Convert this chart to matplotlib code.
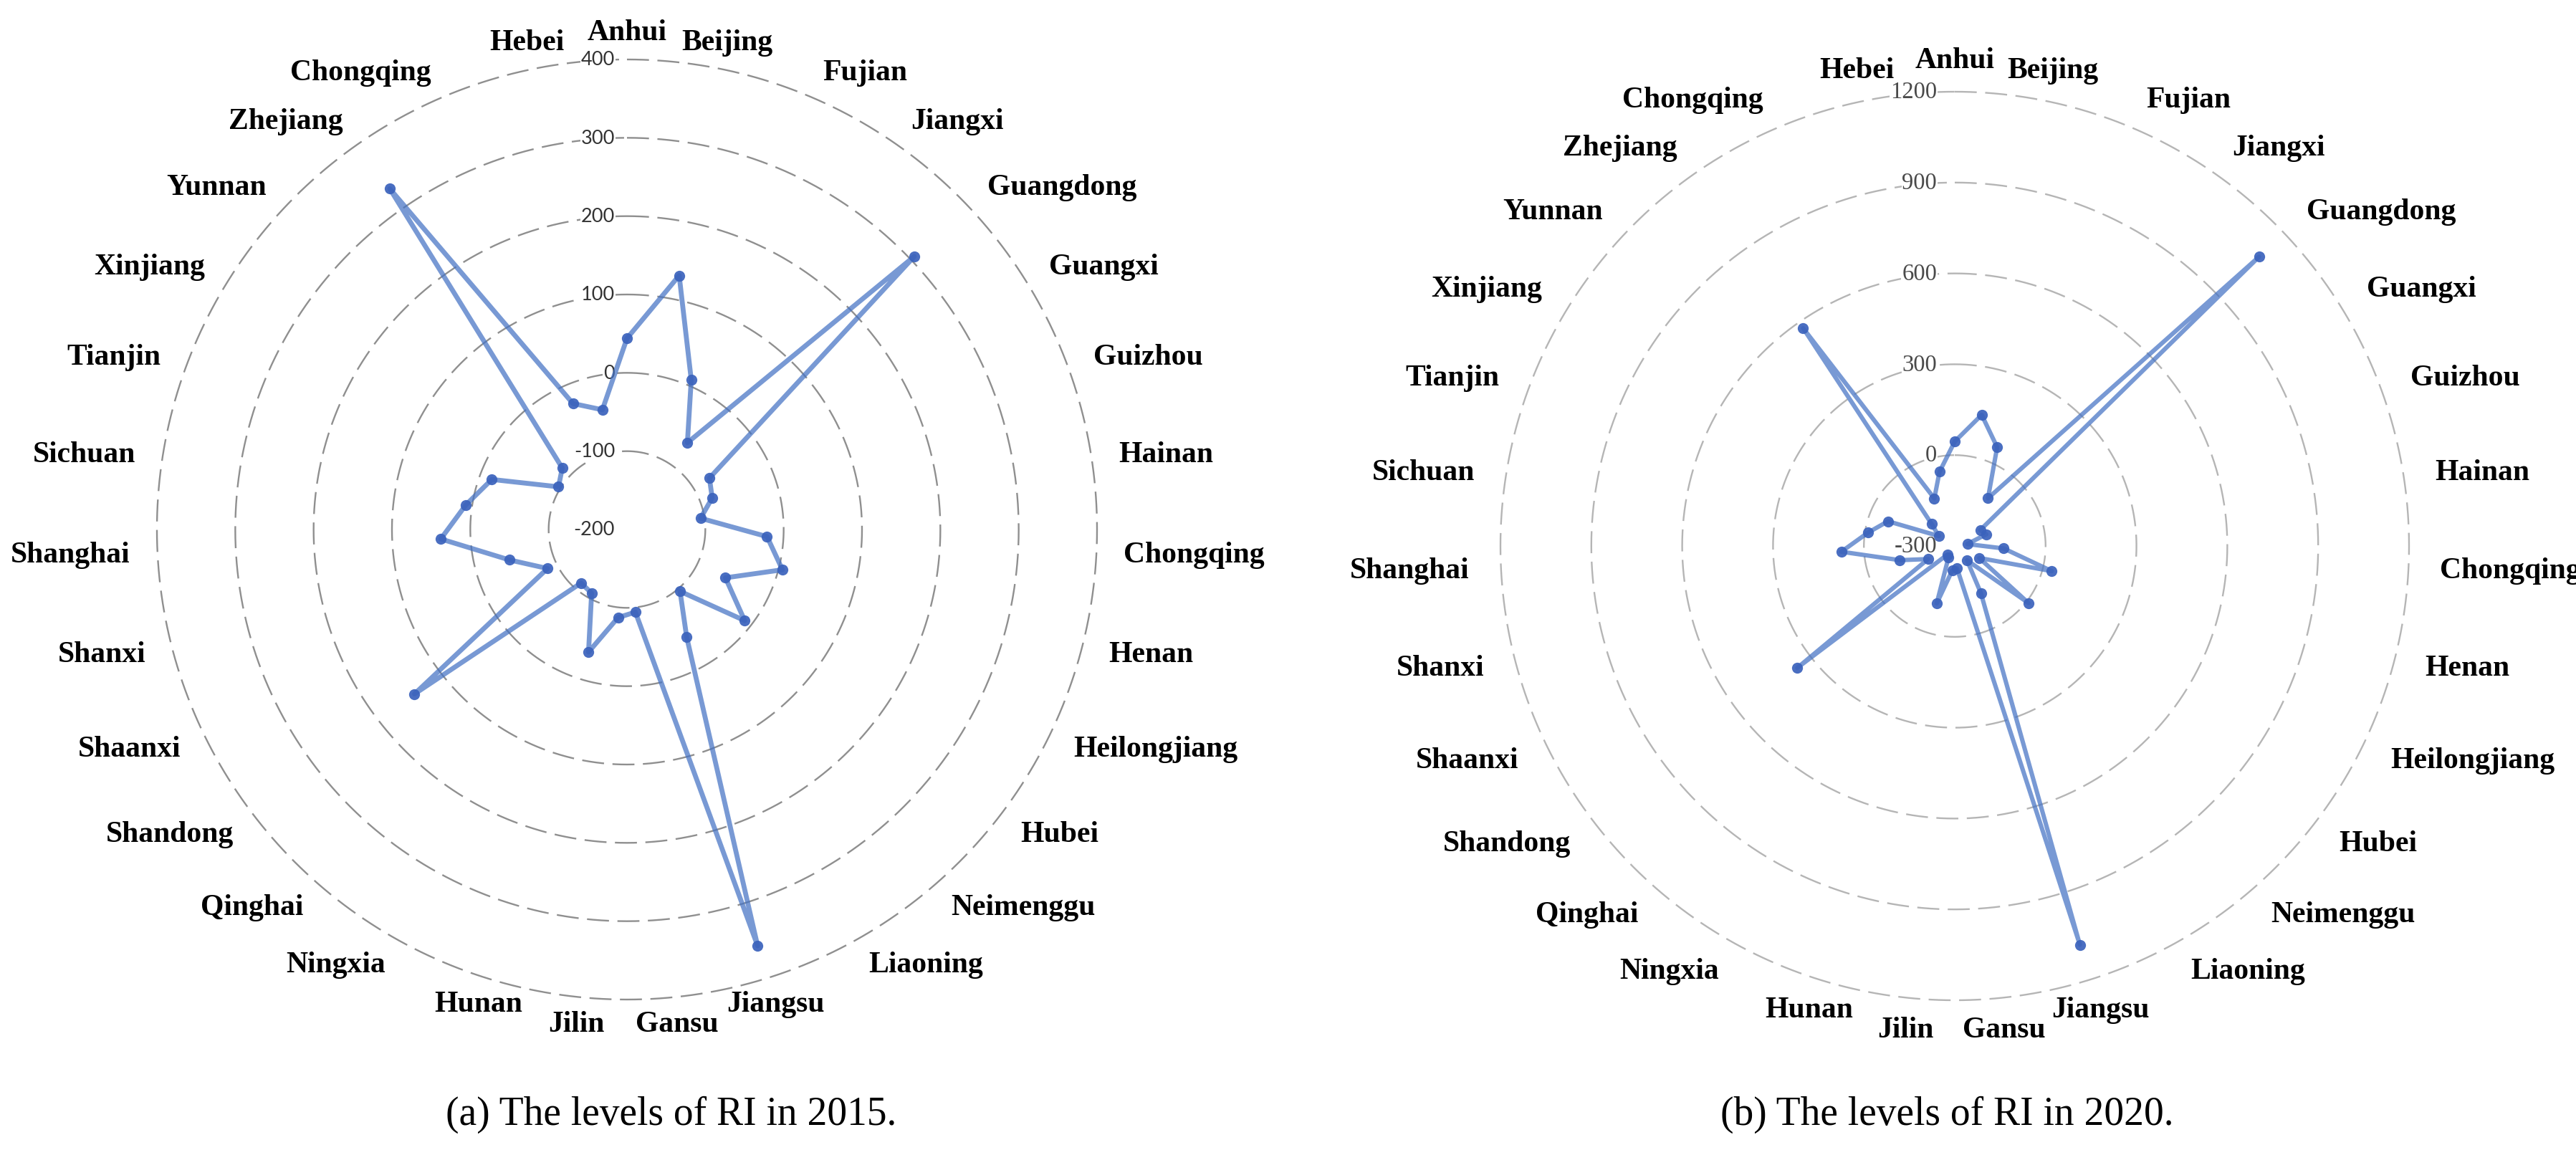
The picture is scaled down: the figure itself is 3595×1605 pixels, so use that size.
import numpy as np
import matplotlib
matplotlib.use("Agg")
import matplotlib.pyplot as plt

# ---------------- data ----------------
categories = ["Anhui", "Beijing", "Fujian", "Jiangxi", "Guangdong", "Guangxi",
              "Guizhou", "Hainan", "Chongqing", "Henan", "Heilongjiang", "Hubei",
              "Neimenggu", "Liaoning", "Jiangsu", "Gansu", "Jilin", "Hunan",
              "Ningxia", "Qinghai", "Shandong", "Shaanxi", "Shanxi", "Shanghai",
              "Sichuan", "Tianjin", "Xinjiang", "Yunnan", "Zhejiang", "Chongqing",
              "Hebei"]

ri_2015 = [44, 131, 8, -65, 306, -76, -84, -105, -21, 5, -60, -10, -96, -43,
           357, -94, -87, -36, -107, -110, 143, -87, -45, 38, 8, -16, -97, -86,
           330, -25, -44]

ri_2020 = [45, 142, 55, -108, 1086, -201, -189, -258, -138, 31, -210, 8, -238,
           -122, 1080, -226, -219, -101, -258, -262, 358, -202, -113, 75, -10,
           -65, -238, -195, 576, -129, -50]

ticks_2015 = [-200, -100, 0, 100, 200, 300, 400]
ticks_2020 = [-300, 0, 300, 600, 900, 1200]

caption_2015 = "(a) The levels of RI in 2015."
caption_2020 = "(b) The levels of RI in 2020."

# ---------------- figure ----------------
W, H, DPI = 3595, 1606, 100
fig = plt.figure(figsize=(W / DPI, H / DPI), dpi=DPI)
fig.patch.set_facecolor("white")


def radar(center, R, values, ticks, ring_color, tick_font, tick_size,
          tick_color, tick_dx, lab_pad, lw, ms):
    cx, cy = center
    rect = [(cx - R) / W, (H - cy - R) / H, 2 * R / W, 2 * R / H]
    ax = fig.add_axes(rect, projection="polar")
    ax.set_theta_zero_location("N")
    ax.set_theta_direction(-1)
    ax.set_rlim(ticks[0], ticks[-1])
    ax.set_xticks([])
    ax.set_yticks([])
    ax.grid(False)
    ax.spines["polar"].set_visible(False)
    ax.patch.set_alpha(0)

    n = len(categories)
    theta = np.arange(n) * 2 * np.pi / n
    tt = np.linspace(0, 2 * np.pi, 1441)

    # dashed rings
    for v in ticks[1:]:
        ln, = ax.plot(tt, np.full_like(tt, v), color=ring_color, lw=1.7,
                      clip_on=False, zorder=1)
        ln.set_dashes((13, 5))

    # radial tick labels
    for v in ticks:
        ax.annotate(f"{v}", xy=(0, v), xytext=(tick_dx, 0),
                    textcoords="offset pixels", ha="right", va="center",
                    fontfamily=tick_font, fontsize=tick_size, color=tick_color,
                    annotation_clip=False, zorder=2,
                    bbox=dict(facecolor="white", edgecolor="none", pad=0.5))

    # data polygon
    th = np.r_[theta, theta[0]]
    vals = np.r_[values, values[0]]
    ax.plot(th, vals, color="#4472C4", alpha=0.72, lw=lw, zorder=3,
            solid_joinstyle="round", solid_capstyle="round", clip_on=False)
    ax.plot(theta, values, "o", ls="none", ms=ms, color="#3A62BC", alpha=0.92,
            markeredgewidth=0, zorder=4, clip_on=False)

    # category labels
    for t, name in zip(theta, categories):
        s, c = np.sin(t), np.cos(t)
        if abs(s) < 0.35:
            ha = "center"
        else:
            ha = "left" if s > 0 else "right"
        ax.annotate(name, xy=(t, ticks[-1]), xytext=(lab_pad * s, lab_pad * c),
                    textcoords="offset pixels", ha=ha, va="center",
                    fontfamily="Liberation Serif", fontweight="bold",
                    fontsize=30, color="black", annotation_clip=False)
    return ax


radar((875, 740), 656, ri_2015, ticks_2015, "#8f8f8f", "Lato", 19.5,
      "#333333", -17, 38, 4.9, 11)
radar((2728, 763), 634, ri_2020, ticks_2020, "#b5b5b5", "Liberation Serif",
      23.5, "#4a4a4a", -25, 44, 4.4, 11)

fig.text(937 / W, 1 - 1556 / H, caption_2015, fontfamily="Liberation Serif",
         fontsize=40, ha="center", va="center")
fig.text(2717 / W, 1 - 1556 / H, caption_2020, fontfamily="Liberation Serif",
         fontsize=40, ha="center", va="center")

fig.savefig("out.png", dpi=DPI, facecolor="white")
